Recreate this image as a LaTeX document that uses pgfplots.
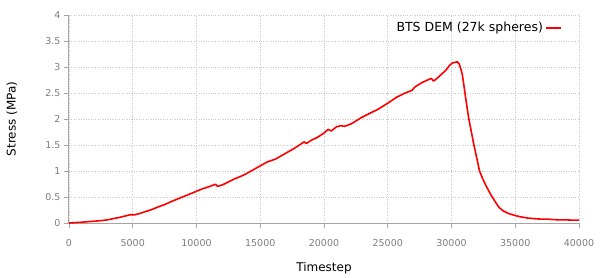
\documentclass[border=0pt]{standalone}
\usepackage{fontspec}
\setmainfont{DejaVu Sans}
\usepackage{pgfplots}
\pgfplotsset{compat=1.18}
\definecolor{axgray}{RGB}{165,165,165}
\definecolor{tickgray}{RGB}{125,125,125}
\definecolor{gridgray}{RGB}{200,200,200}
\begin{document}
\begin{tikzpicture}
\path[use as bounding box] (-69pt,-54pt) rectangle (531pt,223pt);
\begin{axis}[
  at={(0pt,0pt)}, anchor=south west,
  scale only axis, width=510pt, height=208pt,
  xmin=0, xmax=40000, ymin=0, ymax=4,
  xtick={0,5000,...,40000},
  ytick={0,0.5,...,4},
  scaled x ticks=false,
  /pgf/number format/set thousands separator={},
  /pgf/number format/assume math mode=true,
  axis lines*=left,
  axis line style={axgray, line width=1pt, -},
  tick align=outside,
  major tick length=5pt,
  tick style={axgray, line width=0.8pt},
  tick label style={font=\fontsize{9.5}{11}\selectfont, text=tickgray},
  xticklabel style={yshift=-8pt},
  grid=major,
  grid style={gridgray, dotted, line width=0.8pt},
  xlabel={Timestep},
  ylabel={Stress (MPa)},
  label style={font=\fontsize{12}{14}\selectfont},
  xlabel style={at={(axis description cs:0.5,0)}, anchor=base, yshift=-48pt},
  ylabel style={at={(axis description cs:-0.112,0.5)}, anchor=center},
  legend style={at={(rel axis cs:0.972,0.985)}, anchor=north east, draw=none, fill=none,
    font=\fontsize{12.5}{14}\selectfont},
  legend plot pos=right,
  legend image code/.code={\draw[mark repeat=2,mark phase=2,#1] plot coordinates {(0pt,0pt) (7.5pt,0pt) (15pt,0pt)};},
]
\addplot[red, line width=1.6pt, line join=round] coordinates {
(0,0) (1000,0.015) (2000,0.035) (2500,0.045) (3000,0.06) (3500,0.085)
(4000,0.11) (4500,0.14) (4800,0.16) (5100,0.155) (5500,0.18) (6000,0.22)
(6500,0.26) (7000,0.31) (7500,0.355) (8000,0.41) (8500,0.46) (9000,0.51)
(9500,0.56) (10000,0.61) (10500,0.66) (11000,0.70) (11500,0.745) (11650,0.705)
(11800,0.715) (12050,0.735) (12500,0.79) (13000,0.85) (13500,0.90) (14000,0.96)
(14500,1.03) (15000,1.10) (15600,1.18) (15850,1.20) (16200,1.23) (16700,1.30)
(17200,1.37) (17700,1.44) (18200,1.52) (18450,1.56) (18620,1.53) (19000,1.59)
(19500,1.65) (20000,1.73) (20320,1.80) (20580,1.77) (20980,1.85) (21300,1.87)
(21630,1.86) (22160,1.91) (22950,2.03) (23600,2.11) (24260,2.19) (25100,2.32)
(25700,2.42) (26370,2.50) (26890,2.55) (27150,2.62) (27680,2.70) (28210,2.76)
(28400,2.78) (28600,2.73) (28900,2.79) (29260,2.87) (29600,2.95) (29880,3.04)
(30100,3.08) (30300,3.09) (30450,3.10) (30600,3.06) (30750,2.95) (30850,2.85)
(31000,2.60) (31100,2.42) (31360,2.00) (31560,1.75) (31760,1.50) (31980,1.25)
(32200,1.00) (32450,0.85) (32700,0.72) (33070,0.55) (33400,0.42) (33700,0.31)
(34000,0.24) (34500,0.18) (35040,0.14) (35500,0.115) (36000,0.095) (36400,0.085)
(37000,0.075) (37500,0.075) (38000,0.065) (38500,0.06) (39000,0.06) (39500,0.055)
(40000,0.055)
};
\addlegendentry{BTS DEM (27k spheres)}
\end{axis}
\end{tikzpicture}
\end{document}
